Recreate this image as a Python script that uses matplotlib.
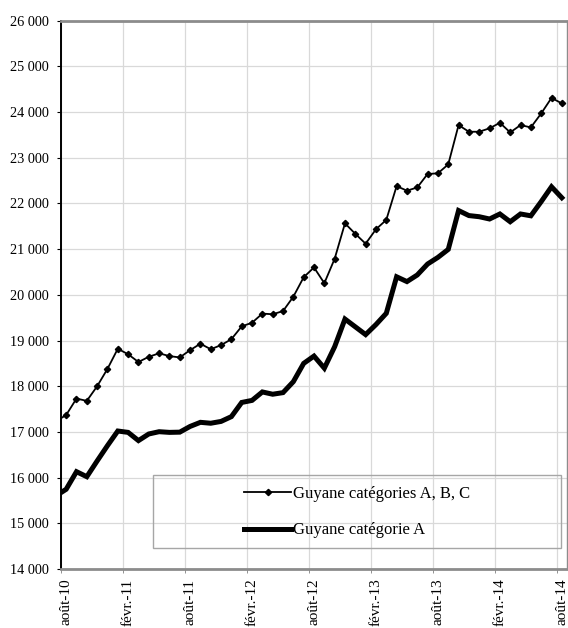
import matplotlib
matplotlib.use("Agg")
import matplotlib.pyplot as plt
from matplotlib.lines import Line2D
from matplotlib.patches import Rectangle
from matplotlib.ticker import FixedLocator, FuncFormatter

# ---------- data ----------
# monthly values, juil.-10 (first point, only its segment is visible) to août-14
abc = [17230, 17370, 17730, 17680, 18000, 18380, 18820, 18700, 18530, 18645,
       18720, 18660, 18630, 18790, 18930, 18810, 18900, 19030, 19310, 19390,
       19590, 19575, 19645, 19960, 20385, 20600, 20255, 20790, 21565, 21335,
       21120, 21435, 21640, 22380, 22280, 22350, 22645, 22660, 22855, 23715,
       23570, 23570, 23645, 23765, 23555, 23715, 23665, 23970, 24310, 24190]
cat_a = [15600, 15745, 16130, 16020, 16365, 16700, 17020, 16990, 16810, 16955,
         17005, 16990, 16995, 17120, 17210, 17190, 17230, 17335, 17645, 17690,
         17875, 17825, 17860, 18100, 18500, 18660, 18395, 18865, 19470, 19300,
         19130, 19350, 19596, 20395, 20290, 20435, 20675, 20820, 20995, 21845,
         21735, 21710, 21660, 21770, 21600, 21770, 21730, 22040, 22365, 22125]
tick_labels = ["août-10", "févr.-11", "août-11", "févr.-12", "août-12",
               "févr.-13", "août-13", "févr.-14", "août-14"]
series_names = ["Guyane catégories A, B, C", "Guyane catégorie A"]

x = list(range(-1, len(abc) - 1))  # août-10 = 0

# ---------- render ----------
plt.rcParams["font.family"] = ["Liberation Serif", "DejaVu Serif"]

fig = plt.figure(figsize=(5.68, 6.28), dpi=100)
ax = fig.add_axes([61 / 568, 1 - 569 / 628, (567 - 61) / 568, (569 - 20.7) / 628])

grid_c = "#d9d9d9"
ax.plot(x, abc, color="black", lw=1.3, marker="D", ms=3.2, zorder=3)
ax.plot(x, cat_a, color="black", lw=3.6, solid_joinstyle="miter", zorder=3)

ax.set_xlim(-0.5, 48.5)
ax.set_ylim(14000, 26000)

# labels at month centres, grid / ticks on month boundaries
ax.xaxis.set_major_locator(FixedLocator([6 * k for k in range(len(tick_labels))]))
ax.set_xticklabels(tick_labels, rotation=90, fontsize=11, va="top")
ax.xaxis.set_minor_locator(FixedLocator([6 * k - 0.5 for k in range(len(tick_labels))]))
ax.tick_params(axis="x", which="major", length=0, pad=7)
ax.tick_params(axis="x", which="minor", length=3, color="#808080")
ax.grid(axis="x", which="minor", color=grid_c, lw=0.9)

ax.set_yticks(range(14000, 26001, 1000))
ax.yaxis.set_major_formatter(FuncFormatter(lambda v, p: f"{int(v):,}".replace(",", " ")))
ax.tick_params(axis="y", length=3, pad=6, labelsize=10.3)
ax.grid(axis="y", color=grid_c, lw=0.9)
ax.set_axisbelow(True)

ax.spines["left"].set_color("black")
ax.spines["left"].set_linewidth(1.4)
for s in ["top", "bottom"]:
    ax.spines[s].set_color("#8c8c8c")
    ax.spines[s].set_linewidth(2.0)
ax.spines["right"].set_color("#8c8c8c")
ax.spines["right"].set_linewidth(1.0)

# legend: transparent box with gray border, entries centred
fig.patches.append(Rectangle((153.3 / 568, 1 - 547.5 / 628), (560.7 - 153.3) / 568,
                             (547.5 - 475) / 628, transform=fig.transFigure,
                             fill=False, edgecolor="#a6a6a6", lw=1.0))
handles = [Line2D([], [], color="black", lw=1.3, marker="D", ms=3.2, markevery=[1]),
           Line2D([], [], color="black", lw=3.6)]
handles[0].set_data([0, 1, 2], [0, 0, 0])
fig.legend(handles, series_names, loc="center",
           bbox_to_anchor=(357 / 568, 1 - 512 / 628), frameon=False,
           fontsize=12, handlelength=2.8, handletextpad=0.1, labelspacing=1.25,
           borderaxespad=0)

fig.savefig("out.png", dpi=100, facecolor="white")
